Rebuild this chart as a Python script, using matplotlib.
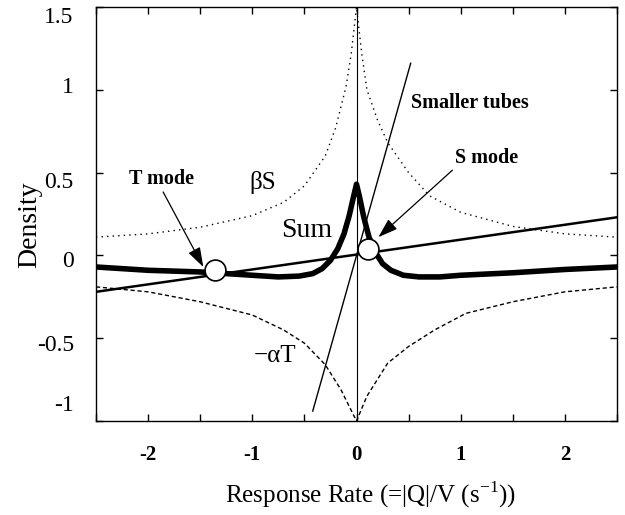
import matplotlib
matplotlib.use('Agg')
import matplotlib.pyplot as plt
import matplotlib.transforms as mtransforms
import numpy as np

plt.rcParams['font.family'] = ['Liberation Serif', 'DejaVu Serif']
plt.rcParams['axes.unicode_minus'] = False
plt.rcParams['mathtext.fontset'] = 'custom'
plt.rcParams['mathtext.rm'] = 'Liberation Serif'

# ── Data ──────────────────────────────────────────────────────────────────────
beta_s_x = [-2.5, -2.0, -1.5, -1.0, -0.7, -0.5, -0.3, -0.2, -0.1, -0.05, 0.0,
            0.05, 0.1, 0.2, 0.3, 0.5, 0.7, 1.0, 1.5, 2.0, 2.5]
beta_s_y = [0.11, 0.13, 0.17, 0.24, 0.32, 0.42, 0.60, 0.77, 1.02, 1.22, 1.50,
            1.22, 1.00, 0.82, 0.68, 0.50, 0.36, 0.26, 0.175, 0.13, 0.11]

alpha_t_x = [-2.5, -2.0, -1.5, -1.0, -0.7, -0.5, -0.3, -0.15, 0.0,
             0.1, 0.3, 0.5, 0.75, 1.05, 1.5, 2.0, 2.5]
alpha_t_y = [-0.19, -0.22, -0.28, -0.36, -0.45, -0.53, -0.66, -0.81, -1.0,
             -0.85, -0.65, -0.55, -0.45, -0.35, -0.28, -0.22, -0.19]

sum_x = [-2.5, -2.0, -1.5, -1.0, -0.75, -0.55, -0.42, -0.33, -0.25, -0.18, -0.12,
         -0.07, -0.03, 0.0, 0.03, 0.07, 0.12, 0.18, 0.25, 0.33, 0.45, 0.6, 0.8,
         1.0, 1.5, 2.0, 2.5]
sum_y = [-0.07, -0.09, -0.10, -0.12, -0.13, -0.125, -0.11, -0.08, -0.03, 0.04, 0.13,
         0.24, 0.35, 0.43, 0.35, 0.23, 0.11, 0.02, -0.05, -0.09, -0.12, -0.13, -0.13,
         -0.12, -0.105, -0.085, -0.07]

line_x = [-2.5, 2.5]
line_y = [-0.22, 0.23]

tubes_x = [-0.42, 0.52]
tubes_y = [-0.94, 1.16]

modes_x = [-1.36, 0.11]
modes_y = [-0.09, 0.04]

xticks = [-2, -1, 0, 1, 2]
xminor = [-2.5, -1.5, -0.5, 0.5, 1.5, 2.5]
yticks = [-1, -0.5, 0, 0.5, 1, 1.5]
ytick_labels = ['-1', '-0.5', '0', '0.5', '1', '1.5']
ylabel_shift_px = [18, -5, -4, -7, 5, -8]   # labels sit a little off their ticks

# ── Figure ────────────────────────────────────────────────────────────────────
fig = plt.figure(figsize=(6.25, 5.15), dpi=100)
ax = fig.add_axes([0.1536, 0.1825, 0.8336, 0.804])

ax.axvline(0, color='black', lw=0.8, zorder=1)
ax.plot(beta_s_x, beta_s_y, color='black', lw=1.0, linestyle=(0, (1, 3)))
ax.plot(alpha_t_x, alpha_t_y, color='black', lw=1.0, linestyle=(0, (3, 2)))
ax.plot(line_x, line_y, color='black', lw=1.8)
ax.plot(tubes_x, tubes_y, color='black', lw=1.0)
ax.plot(sum_x, sum_y, color='black', lw=4.0, solid_joinstyle='round')
ax.plot(modes_x, modes_y, 'o', ms=15, mfc='white', mec='black', mew=1.2, zorder=5)

# labels on curves
ax.text(-0.90, 0.44, 'βS', fontsize=18, ha='center', va='center')
ax.text(-0.475, 0.15, 'Sum', fontsize=20, ha='center', va='center')
ax.text(-0.78, -0.61, '−αT', fontsize=18, ha='center', va='center')
ax.text(1.09, 0.92, 'Smaller tubes', fontsize=14.5, fontweight='bold',
        ha='center', va='center')

arrow = dict(arrowstyle='-|>,head_length=0.6,head_width=0.2', color='black',
             lw=0.9, mutation_scale=20, shrinkA=0, shrinkB=0)
ax.annotate('T mode', xy=(-1.47, -0.07), xytext=(-1.87, 0.46),
            fontsize=14.5, fontweight='bold', ha='center', va='center',
            arrowprops=dict(arrow, relpos=(0.5, 0.0)))
ax.annotate('S mode', xy=(0.21, 0.11), xytext=(1.25, 0.59),
            fontsize=14.5, fontweight='bold', ha='center', va='center',
            arrowprops=dict(arrow, relpos=(0.0, 0.0)))

ax.set_xlim(-2.5, 2.5)
ax.set_ylim(-1, 1.5)
ax.set_xticks(xticks)
ax.set_xticklabels([str(t) for t in xticks], fontsize=15, fontweight='bold')
ax.set_xticks(xminor, minor=True)
ax.set_yticks(yticks)
ax.set_yticklabels(ytick_labels, fontsize=17)
ax.tick_params(which='both', direction='in', length=5, width=1,
               top=True, right=True)
ax.tick_params(axis='x', pad=17)
ax.tick_params(axis='y', pad=16)

for lab, dy in zip(ax.get_yticklabels(), ylabel_shift_px):
    off = mtransforms.ScaledTranslation(0, dy / 100, fig.dpi_scale_trans)
    lab.set_transform(lab.get_transform() + off)

ax.set_xlabel('Response Rate (=|Q|/V (s$^{\\mathrm{-1}}$))', fontsize=18)
ax.xaxis.set_label_coords(0.526, -0.142)
ax.set_ylabel('Density', fontsize=20)
ax.yaxis.set_label_coords(-0.104, 0.473)

for s in ax.spines.values():
    s.set_linewidth(1.0)

plt.savefig('out.png', dpi=100)
plt.close(fig)
